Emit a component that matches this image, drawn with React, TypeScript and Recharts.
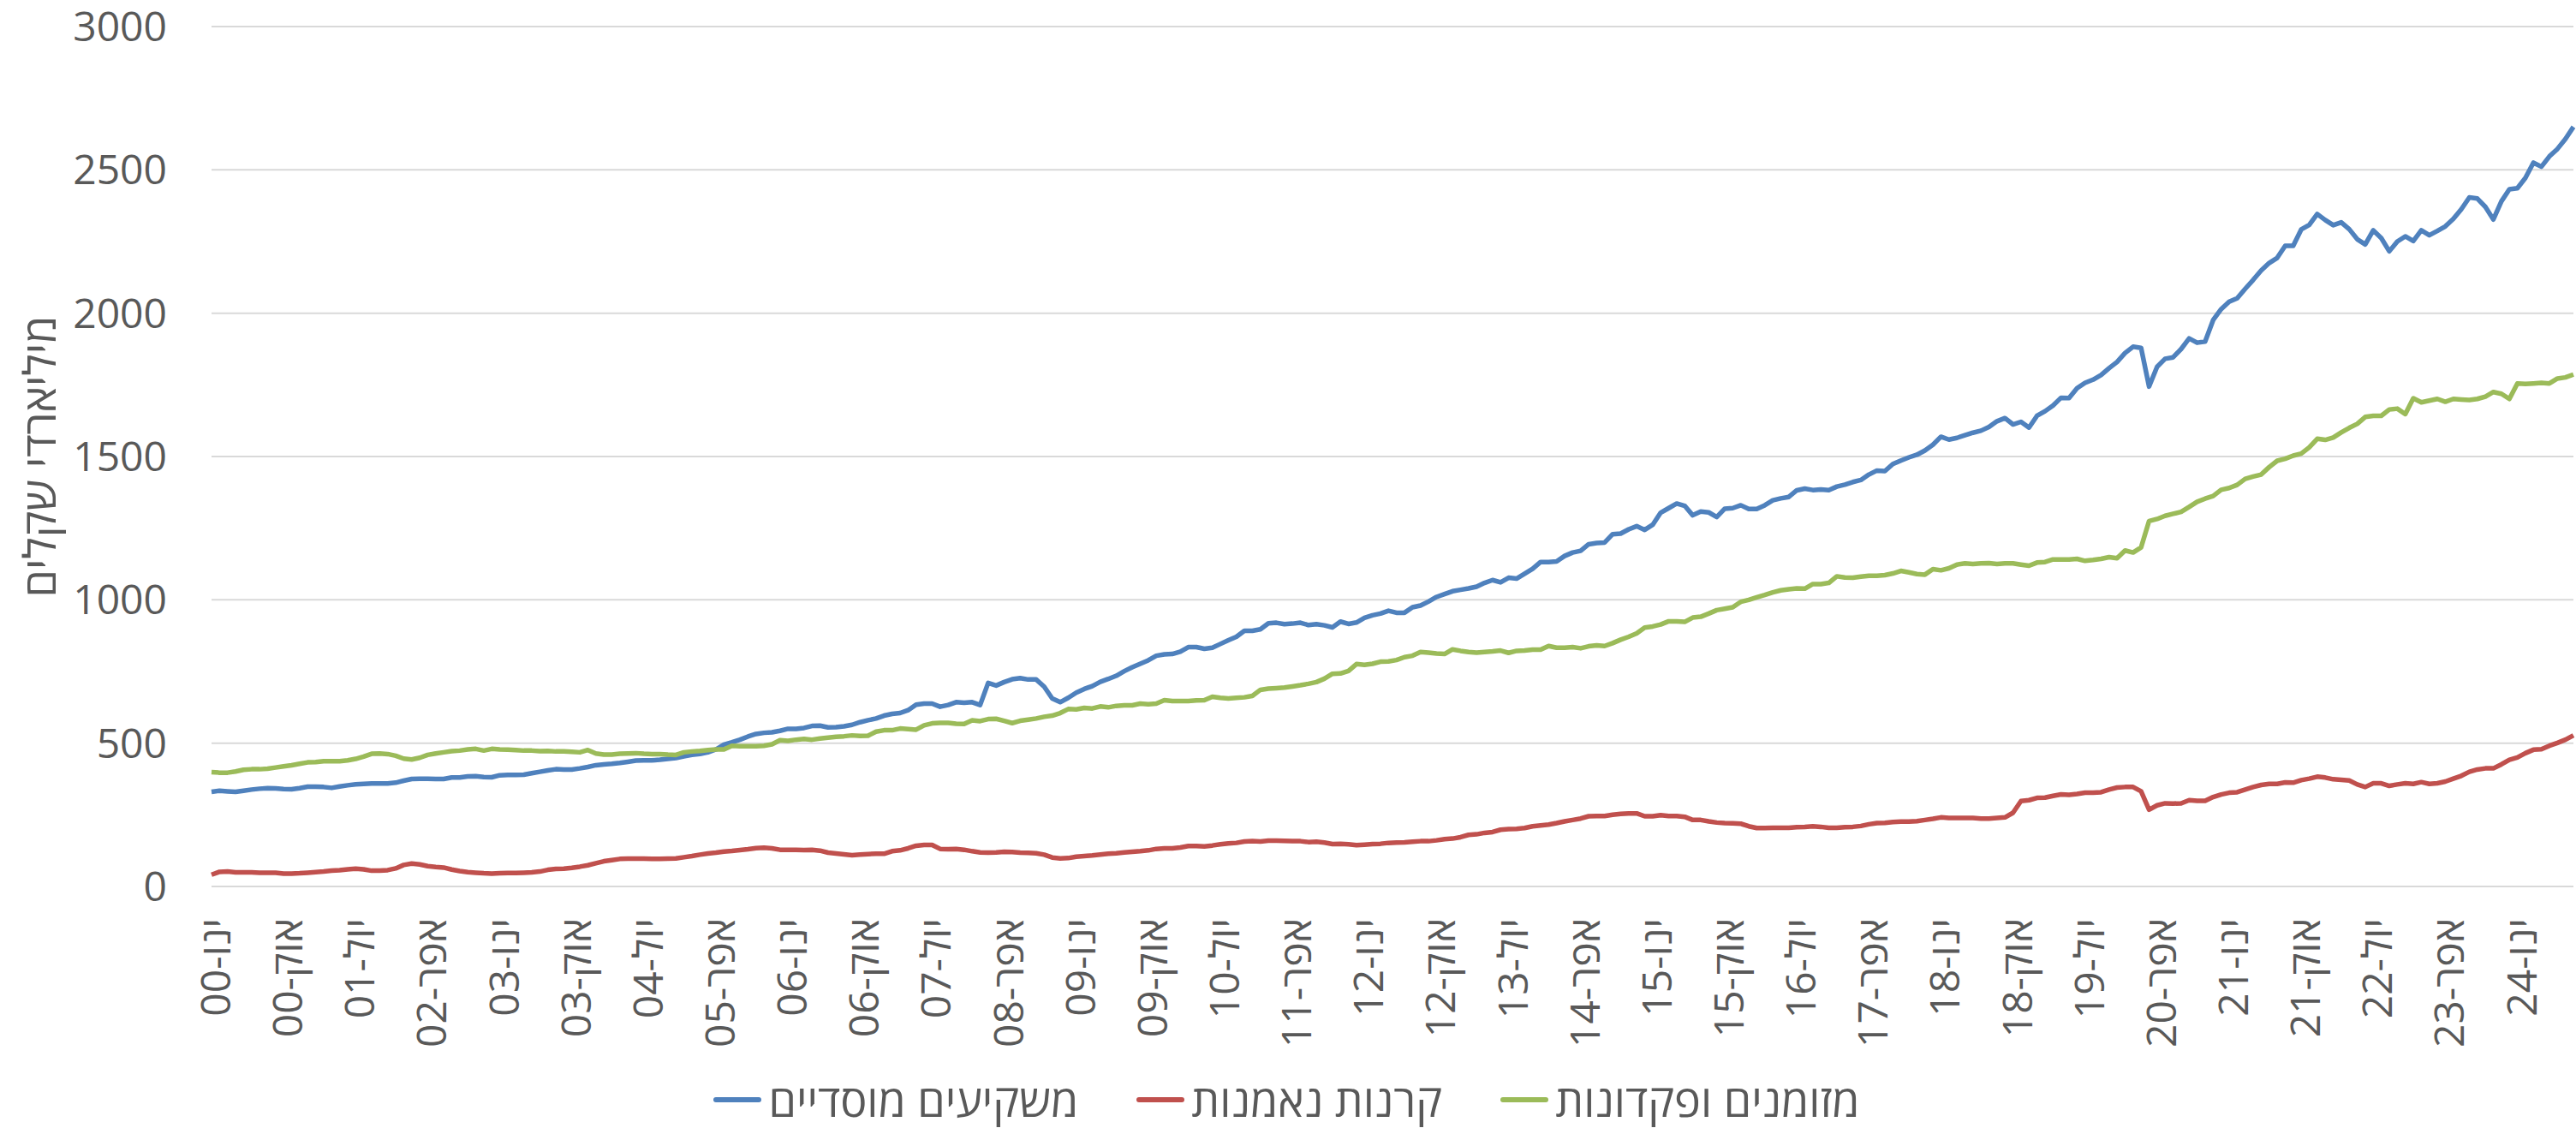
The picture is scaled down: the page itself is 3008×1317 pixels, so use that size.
import React from "react";
import { LineChart, Line, XAxis, YAxis, CartesianGrid, Legend, Label } from "recharts";

// month abbreviations as Excel prints them in Hebrew locale
const MONTHS = ["ינו", "פבר", "מרץ", "אפר", "מאי", "יונ", "יול", "אוג", "ספט", "אוק", "נוב", "דצמ"];
const FIRST_YEAR = 2000;
const Y_TICKS = [0, 500, 1000, 1500, 2000, 2500, 3000];
const Y_TITLE = "מיליארדי שקלים";

// monthly values, Jan 2000 – Aug 2024 (billions NIS)
const institutional = [
  330, 334, 332, 330, 334, 338, 341, 343, 342, 340,
  339, 343, 348, 348, 347, 344, 349, 353, 356, 358,
  359, 359, 359, 362, 369, 375, 376, 376, 375, 375,
  380, 380, 384, 385, 382, 381, 388, 389, 389, 390,
  395, 400, 405, 409, 408, 408, 412, 417, 423, 426,
  428, 431, 435, 439, 440, 440, 442, 445, 448, 454,
  459, 462, 468, 478, 495, 503, 512, 523, 532, 536,
  538, 543, 550, 550, 553, 560, 561, 555, 556, 559,
  564, 573, 580, 586, 596, 602, 605, 615, 634, 638,
  638, 627, 633, 643, 641, 643, 633, 710, 701, 713,
  723, 727, 722, 722, 697, 656, 643, 658, 676, 689,
  699, 714, 724, 735, 751, 765, 777, 789, 805, 810,
  811, 819, 835, 835, 829, 833, 846, 859, 871, 892,
  892, 897, 918, 920, 915, 917, 920, 912, 915, 911,
  904, 924, 916, 921, 937, 946, 952, 962, 955, 955,
  974, 980, 994, 1010, 1020, 1030, 1035, 1040, 1046, 1059,
  1069, 1061, 1077, 1074, 1091, 1108, 1132, 1132, 1134, 1153,
  1165, 1171, 1194, 1198, 1200, 1229, 1231, 1246, 1257, 1244,
  1262, 1304, 1320, 1336, 1328, 1295, 1308, 1305, 1289, 1318,
  1320, 1330, 1317, 1317, 1330, 1347, 1354, 1359, 1382, 1388,
  1383, 1385, 1383, 1395, 1402, 1411, 1418, 1437, 1451, 1449,
  1474, 1486, 1497, 1506, 1521, 1541, 1569, 1559, 1565, 1574,
  1583, 1590, 1603, 1623, 1634, 1612, 1621, 1601, 1642, 1658,
  1678, 1705, 1704, 1738, 1757, 1768, 1784, 1808, 1830, 1861,
  1883, 1879, 1744, 1813, 1841, 1846, 1875, 1912, 1897, 1901,
  1976, 2014, 2040, 2052, 2085, 2116, 2149, 2175, 2193, 2235,
  2235, 2292, 2308, 2346, 2325, 2307, 2317, 2293, 2258, 2240,
  2289, 2262, 2216, 2250, 2268, 2252, 2289, 2272, 2287, 2303,
  2329, 2363, 2404, 2400, 2371, 2327, 2390, 2432, 2436, 2472,
  2525, 2511, 2547, 2573, 2608, 2650,
];

const mutualFunds = [
  41, 51, 52, 49, 49, 49, 48, 48, 48, 45,
  45, 46, 48, 50, 52, 55, 57, 60, 62, 60,
  55, 55, 57, 63, 75, 80, 77, 71, 68, 66,
  59, 54, 50, 48, 46, 45, 46, 47, 47, 48,
  49, 52, 58, 61, 62, 65, 69, 74, 81, 88,
  92, 96, 97, 97, 97, 96, 96, 97, 98, 102,
  106, 111, 115, 118, 122, 124, 127, 130, 134, 135,
  133, 128, 128, 128, 127, 128, 125, 118, 115, 112,
  109, 111, 113, 114, 114, 123, 126, 133, 142, 145,
  145, 131, 130, 131, 128, 123, 119, 118, 119, 121,
  120, 118, 117, 116, 111, 101, 98, 99, 104, 106,
  108, 111, 114, 116, 119, 121, 123, 126, 131, 133,
  133, 136, 141, 141, 140, 143, 147, 150, 152, 157,
  158, 157, 160, 160, 159, 158, 158, 155, 156, 153,
  148, 149, 147, 144, 146, 148, 149, 152, 153, 154,
  156, 158, 158, 161, 165, 167, 172, 180, 182, 187,
  190, 198, 200, 201, 204, 210, 213, 216, 221, 227,
  232, 237, 245, 246, 246, 250, 253, 255, 255, 245,
  245, 249, 246, 246, 243, 232, 232, 227, 223, 221,
  220, 219, 210, 204, 204, 205, 205, 205, 207, 208,
  210, 208, 205, 205, 207, 208, 211, 217, 221, 222,
  225, 226, 226, 228, 232, 236, 241, 239, 239, 239,
  239, 237, 237, 239, 241, 257, 298, 301, 309, 310,
  316, 321, 320, 323, 327, 327, 329, 338, 345, 347,
  347, 332, 268, 283, 290, 289, 290, 301, 299, 299,
  312, 321, 327, 329, 338, 347, 354, 358, 358, 363,
  362, 371, 376, 383, 380, 374, 372, 370, 356, 347,
  360, 360, 351, 356, 360, 358, 364, 358, 360, 366,
  376, 386, 400, 408, 412, 412, 426, 442, 450, 465,
  477, 479, 491, 501, 512, 527,
];

const cashDeposits = [
  399, 397, 397, 401, 407, 409, 409, 411, 415, 419,
  423, 428, 433, 434, 437, 437, 437, 440, 445, 453,
  463, 464, 462, 456, 446, 443, 449, 459, 464, 468,
  472, 474, 478, 480, 474, 480, 478, 477, 476, 474,
  474, 472, 473, 471, 471, 470, 468, 476, 464, 460,
  460, 463, 464, 465, 463, 462, 462, 460, 459, 468,
  471, 473, 476, 478, 478, 491, 489, 489, 489, 491,
  496, 510, 508, 512, 515, 512, 516, 519, 522, 524,
  527, 525, 526, 540, 545, 545, 551, 549, 547, 562,
  569, 571, 571, 568, 567, 580, 577, 584, 585, 578,
  570, 578, 582, 586, 592, 596, 605, 619, 618, 623,
  621, 628, 625, 630, 632, 632, 638, 636, 638, 650,
  647, 647, 647, 649, 650, 662, 658, 656, 658, 660,
  665, 686, 690, 692, 694, 698, 702, 707, 713, 725,
  742, 743, 752, 776, 773, 777, 784, 785, 790, 800,
  805, 818, 816, 813, 811, 827, 822, 818, 816, 818,
  820, 823, 815, 822, 823, 826, 826, 839, 833, 833,
  835, 831, 838, 841, 839, 849, 861, 871, 883, 903,
  907, 914, 925, 925, 923, 938, 941, 952, 964, 969,
  974, 993, 1000, 1009, 1017, 1026, 1033, 1037, 1040, 1039,
  1055, 1055, 1059, 1082, 1078, 1077, 1081, 1084, 1084, 1086,
  1092, 1101, 1096, 1090, 1088, 1107, 1103, 1110, 1123, 1127,
  1125, 1127, 1128, 1125, 1127, 1127, 1123, 1119, 1130, 1132,
  1141, 1141, 1141, 1143, 1136, 1139, 1143, 1149, 1145, 1172,
  1165, 1183, 1275, 1282, 1293, 1300, 1307, 1324, 1342, 1353,
  1362, 1384, 1390, 1401, 1422, 1430, 1437, 1463, 1485, 1492,
  1503, 1510, 1532, 1562, 1558, 1566, 1584, 1600, 1614, 1638,
  1642, 1642, 1664, 1667, 1648, 1703, 1689, 1695, 1701, 1691,
  1701, 1699, 1697, 1701, 1709, 1725, 1719, 1701, 1755, 1753,
  1755, 1757, 1755, 1772, 1776, 1786,
];

const SERIES = [
  { key: "institutional", name: "משקיעים מוסדיים", color: "#4F81BD" },
  { key: "mutualFunds", name: "קרנות נאמנות", color: "#C0504D" },
  { key: "cashDeposits", name: "מזומנים ופקדונות", color: "#9BBB59" },
];

const FONT = '"Open Sans", "Liberation Sans", "DejaVu Sans", sans-serif';
const TEXT = "#595959";
const FS = 48;
const FS_HEB = 52; // legend + axis title run a bit larger

const data = institutional.map((v, i) => {
  const yy = String((FIRST_YEAR + Math.floor(i / 12)) % 100).padStart(2, "0");
  return {
    month: `${MONTHS[i % 12]}-${yy}`,
    institutional: v,
    mutualFunds: mutualFunds[i],
    cashDeposits: cashDeposits[i],
  };
});

const MonthTick = (props: any) => {
  const { x, y, payload } = props;
  return (
    <text
      x={x}
      y={y}
      dy={22}
      transform={`rotate(-90, ${x}, ${y})`}
      textAnchor="end"
      fill={TEXT}
      fontSize={FS}
      fontFamily={FONT}
    >
      {payload.value}
    </text>
  );
};

// keep legend in series order (recharts sorts by name otherwise)
const seriesOrder = (name: string) => SERIES.findIndex((s) => s.name === name);

const renderLegend = (props: any) => {
  const items = [...(props.payload ?? [])].sort(
    (a: any, b: any) => seriesOrder(a.value) - seriesOrder(b.value)
  );
  return (
    <div
      style={{
        display: "flex",
        justifyContent: "center",
        alignItems: "center",
        gap: 68,
        height: 75,
        fontFamily: FONT,
        fontSize: FS_HEB,
        color: TEXT,
        paddingTop: 8,
        boxSizing: "border-box",
      }}
    >
      {items.map((it: any) => (
        <div key={it.value} style={{ display: "flex", alignItems: "center", gap: 8 }}>
          <span
            style={{
              display: "inline-block",
              width: 56,
              height: 6,
              borderRadius: 3,
              background: it.color,
            }}
          />
          <span>{it.value}</span>
        </div>
      ))}
    </div>
  );
};

export default function App() {
  return (
    <div style={{ position: "absolute", left: 0, top: 0, width: 3008, height: 1317, background: "#fff" }}>
      <LineChart
        width={3008}
        height={1317}
        data={data}
        margin={{ top: 31, right: 3, bottom: 0, left: 0 }}
      >
        <CartesianGrid vertical={false} stroke="#D9D9D9" strokeWidth={2} />
        <XAxis
          dataKey="month"
          interval={8}
          axisLine={false}
          tickLine={false}
          tickSize={0}
          tickMargin={37}
          height={207}
          tick={<MonthTick />}
        />
        <YAxis
          width={247}
          domain={[0, 3000]}
          ticks={Y_TICKS}
          axisLine={false}
          tickLine={false}
          tickSize={0}
          tickMargin={52}
          tick={{ fill: TEXT, fontSize: FS, fontFamily: FONT }}
        >
          <Label
            content={(p: any) => {
              const vb = p.viewBox;
              const cx = 47;
              const cy = vb.y + vb.height / 2;
              return (
                <text
                  x={cx}
                  y={cy}
                  dy={18}
                  transform={`rotate(-90, ${cx}, ${cy})`}
                  textAnchor="middle"
                  fill={TEXT}
                  fontSize={FS_HEB}
                  fontFamily={FONT}
                >
                  {Y_TITLE}
                </text>
              );
            }}
          />
        </YAxis>
        <Legend verticalAlign="bottom" wrapperStyle={{ height: 75 }} content={renderLegend} />
        {SERIES.map((s) => (
          <Line
            key={s.key}
            type="linear"
            dataKey={s.key}
            name={s.name}
            stroke={s.color}
            strokeWidth={5.5}
            strokeLinejoin="round"
            dot={false}
            activeDot={false}
            isAnimationActive={false}
          />
        ))}
      </LineChart>
    </div>
  );
}
